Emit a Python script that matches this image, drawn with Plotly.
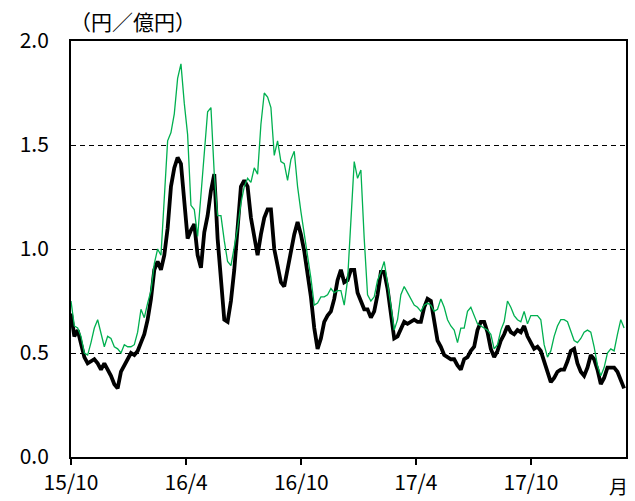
import pandas as pd
import plotly.graph_objects as go

# Sampled observations, Oct 2015 - Feb 2018 (円／億円)
start_date = "2015-10-01"
end_date = "2018-02-26"

values_black = [
    0.69, 0.58, 0.61, 0.55, 0.48, 0.45, 0.46, 0.47, 0.45, 0.42,
    0.45, 0.42, 0.39, 0.35, 0.33, 0.41, 0.44, 0.47, 0.50, 0.49,
    0.51, 0.55, 0.59, 0.66, 0.76, 0.90, 0.94, 0.90, 0.97, 1.10,
    1.30, 1.39, 1.44, 1.41, 1.22, 1.05, 1.09, 1.12, 0.97, 0.91,
    1.08, 1.16, 1.28, 1.36, 1.05, 0.87, 0.66, 0.65, 0.75, 0.90,
    1.08, 1.30, 1.33, 1.30, 1.15, 1.05, 0.97, 1.07, 1.15, 1.19,
    1.19, 1.00, 0.91, 0.84, 0.82, 0.91, 1.00, 1.07, 1.13, 1.07,
    0.99, 0.89, 0.77, 0.62, 0.52, 0.57, 0.65, 0.68, 0.70, 0.76,
    0.85, 0.90, 0.84, 0.85, 0.90, 0.90, 0.79, 0.75, 0.71, 0.71,
    0.67, 0.70, 0.78, 0.89, 0.89, 0.81, 0.69, 0.57, 0.58, 0.62,
    0.65, 0.64, 0.65, 0.66, 0.65, 0.65, 0.72, 0.76, 0.75, 0.65,
    0.56, 0.53, 0.49, 0.48, 0.47, 0.47, 0.44, 0.42, 0.47, 0.48,
    0.51, 0.53, 0.61, 0.65, 0.65, 0.60, 0.52, 0.48, 0.51, 0.56,
    0.59, 0.63, 0.60, 0.59, 0.61, 0.60, 0.63, 0.58, 0.55, 0.52,
    0.53, 0.51, 0.46, 0.41, 0.36, 0.38, 0.41, 0.42, 0.42, 0.46,
    0.51, 0.52, 0.45, 0.41, 0.39, 0.43, 0.49, 0.47, 0.42, 0.35,
    0.38, 0.43, 0.43, 0.43, 0.41, 0.37, 0.33,
]

values_green = [
    0.75, 0.63, 0.62, 0.58, 0.50, 0.49, 0.55, 0.62, 0.66, 0.60,
    0.53, 0.58, 0.57, 0.53, 0.52, 0.50, 0.54, 0.53, 0.53, 0.54,
    0.60, 0.71, 0.67, 0.74, 0.80, 0.93, 1.00, 0.97, 1.25, 1.52,
    1.56, 1.65, 1.82, 1.89, 1.70, 1.55, 1.21, 1.19, 1.06, 1.26,
    1.48, 1.66, 1.68, 1.36, 1.16, 1.16, 1.04, 0.94, 0.92, 1.01,
    1.10, 1.22, 1.30, 1.34, 1.32, 1.39, 1.36, 1.60, 1.75, 1.73,
    1.68, 1.45, 1.52, 1.42, 1.41, 1.33, 1.43, 1.47, 1.30, 1.18,
    1.08, 0.98, 0.86, 0.73, 0.74, 0.77, 0.77, 0.78, 0.81, 0.79,
    0.80, 0.80, 0.73, 0.85, 1.12, 1.42, 1.34, 1.38, 1.05, 0.78,
    0.75, 0.77, 0.85, 0.89, 0.94, 0.84, 0.73, 0.61, 0.66, 0.78,
    0.82, 0.79, 0.76, 0.73, 0.72, 0.70, 0.73, 0.74, 0.73, 0.70,
    0.71, 0.76, 0.72, 0.66, 0.63, 0.61, 0.55, 0.62, 0.62, 0.70,
    0.72, 0.68, 0.64, 0.63, 0.62, 0.61, 0.59, 0.52, 0.54, 0.61,
    0.65, 0.75, 0.72, 0.68, 0.66, 0.65, 0.70, 0.64, 0.68, 0.68,
    0.68, 0.66, 0.54, 0.48, 0.51, 0.58, 0.63, 0.66, 0.66, 0.65,
    0.60, 0.56, 0.55, 0.57, 0.60, 0.61, 0.60, 0.53, 0.44, 0.39,
    0.43, 0.50, 0.52, 0.51, 0.59, 0.66, 0.62,
]

tick_dates = ["2015-10-01", "2016-04-01", "2016-10-01", "2017-04-01", "2017-10-01"]
tick_labels = ["15/10", "16/4", "16/10", "17/4", "17/10"]
y_ticks = [0.0, 0.5, 1.0, 1.5, 2.0]

dates = pd.date_range(start_date, end_date, periods=len(values_black))

FONT = "Noto Sans CJK JP"

fig = go.Figure()
fig.add_trace(go.Scatter(
    x=dates, y=values_black, mode="lines",
    line=dict(color="#000000", width=3.8), showlegend=False,
))
fig.add_trace(go.Scatter(
    x=dates, y=values_green, mode="lines",
    line=dict(color="#00B050", width=1.3), showlegend=False,
))

fig.update_layout(
    width=635, height=501,
    margin=dict(l=71, r=9, t=41, b=44),
    paper_bgcolor="white", plot_bgcolor="white",
    font=dict(family=FONT, size=21, color="#000000"),
    xaxis=dict(
        type="date", range=["2015-10-01", "2018-03-01"],
        tickvals=tick_dates, ticktext=tick_labels,
        ticks="outside", ticklen=6, tickwidth=2, tickcolor="#000000",
        ticklabelstandoff=0, automargin=False,
        showline=True, linewidth=2, linecolor="#000000", mirror=True,
        showgrid=False, zeroline=False,
        tickfont=dict(family=FONT, size=21, color="#000000"),
    ),
    yaxis=dict(
        range=[0, 2], tickvals=y_ticks, tickformat=".1f",
        ticks="", ticklabelstandoff=16, automargin=False,
        showline=True, linewidth=2, linecolor="#000000", mirror=True,
        showgrid=True, gridcolor="#000000", gridwidth=1, griddash="5px,4px",
        zeroline=False,
        tickfont=dict(family=FONT, size=21, color="#000000"),
    ),
    annotations=[
        dict(text="（円／億円）", xref="paper", yref="paper",
             x=0.127, y=1, xanchor="center", yanchor="middle",
             xshift=-8, yshift=20,
             showarrow=False, font=dict(family=FONT, size=21, color="#000000")),
        dict(text="月", xref="paper", yref="paper",
             x=1, y=0, xanchor="right", yanchor="bottom", xshift=3, yshift=-43,
             borderpad=0,
             showarrow=False, font=dict(family=FONT, size=19, color="#000000")),
    ],
)

fig.write_html("out.html")
